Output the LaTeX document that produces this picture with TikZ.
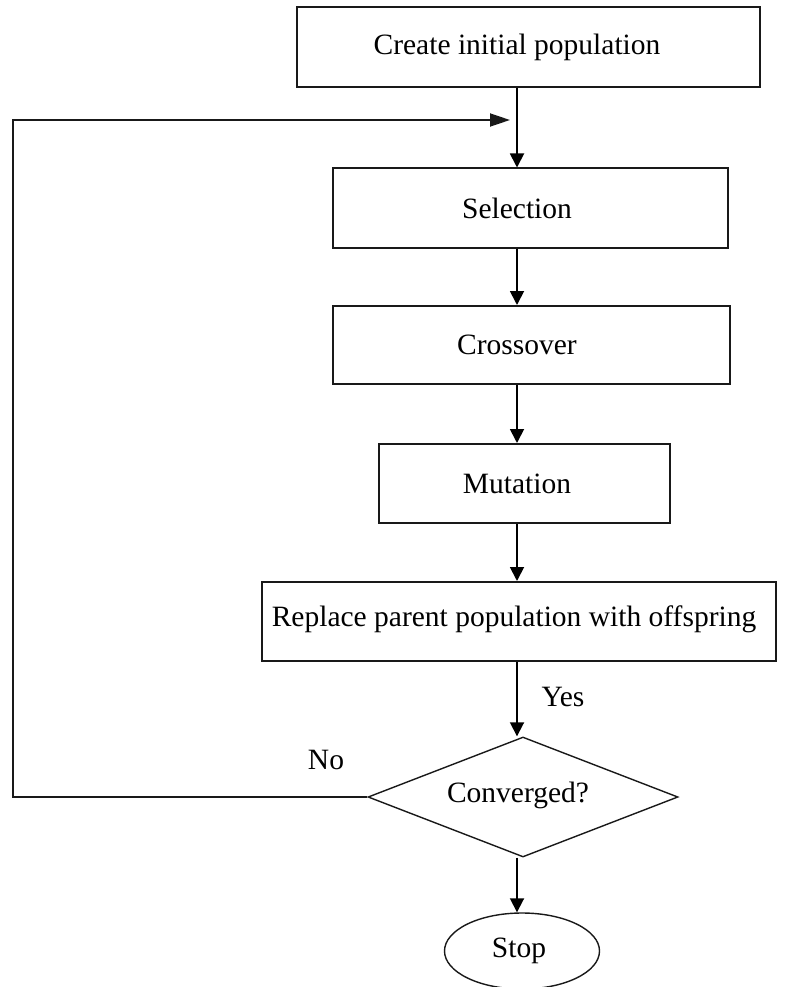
\documentclass[tikz,border=0pt]{standalone}
\usepackage{fontspec}
\setmainfont{Liberation Serif}
\usetikzlibrary{shapes.geometric,arrows.meta}
\begin{document}
\begin{tikzpicture}[x=1pt,y=-1pt,
  font=\fontsize{29.5}{34}\selectfont,
  stepbox/.style={draw=black!90,line width=2pt,inner sep=0pt},
  arr/.style={draw=black,line width=1.8pt,-{Triangle[length=14pt,width=14pt]}},
  looparr/.style={draw=black!90,line width=1.8pt,-{Triangle[length=20pt,width=13pt]}},
  thinshape/.style={draw=black!90,line width=1.4pt,inner sep=0pt}]
\useasboundingbox (0,0) rectangle (795,987);
\coordinate (ax) at (517,0);
% boxes
\node[stepbox,minimum width=463pt,minimum height=80pt] (box1) at (528.5,47) {};
\node (t1) at (box1.center -| ax) {Create initial population};
\node[stepbox,minimum width=395pt,minimum height=79pt] (sel) at (530.5,208) {};
\node (t2) at (sel.center -| ax) {Selection};
\node[stepbox,minimum width=397pt,minimum height=78pt] (cro) at (531.5,345) {};
\node (t3) at (cro.center -| ax) {Crossover};
\node[stepbox,minimum width=291pt,minimum height=79pt] (mut) at (524.5,483.5) {};
\node (t4) at (mut.center -| ax) {Mutation};
\node[stepbox,minimum width=514pt,minimum height=79pt] (rep) at (519,621.5) {};
\node (t5) at (514,619) {Replace parent population with offspring};
\node[thinshape,diamond,minimum width=310pt,minimum height=120pt] (dia) at (523,797) {};
\node (t6) at (518,795) {Converged?};
\node[thinshape,ellipse,minimum width=155pt,minimum height=76pt] (stop) at (522,951) {};
\node (t7) at (519,951) {Stop};
\node (yes) at (563,697) {Yes};
\node (no) at (326,760) {No};
% connectors
\draw[arr] (box1.south -| ax) -- (sel.north -| ax);
\draw[arr] (sel.south -| ax) -- (cro.north -| ax);
\draw[arr] (cro.south -| ax) -- (mut.north -| ax);
\draw[arr] (mut.south -| ax) -- (rep.north -| ax);
\draw[arr] (rep.south -| ax) -- (dia.north -| ax);
\draw[arr] (dia.south -| ax) -- (stop.north -| ax);
\coordinate (loopL) at (13,120);
\coordinate (loopEnd) at (510,120);
\draw[looparr] (dia.west) -| (loopL) -- (loopEnd);
\end{tikzpicture}
\end{document}
